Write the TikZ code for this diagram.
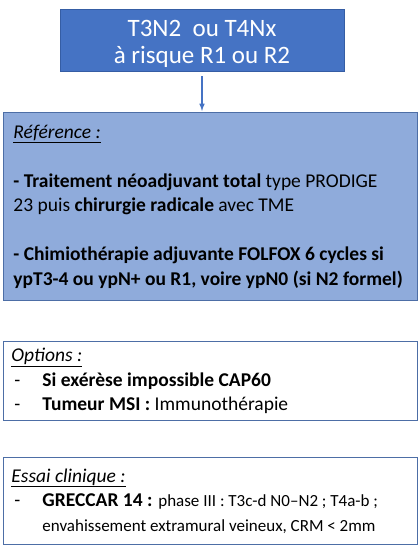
\documentclass[tikz,border=0pt]{standalone}
\usepackage{fontspec}
\setmainfont{Carlito}
\usetikzlibrary{positioning}
\definecolor{bleu}{rgb}{0.27,0.45,0.77}
\definecolor{bleuc}{rgb}{0.56,0.67,0.86}
\definecolor{bleub}{rgb}{0.18,0.33,0.59}
\tikzset{ %cadres
    titre/.style={draw=bleub!70!bleu, line width=0.8pt, fill=bleu, text=white, minimum width=284pt, minimum height=62pt, align=center, font=\fontsize{25}{27}\selectfont},
    cadre/.style={draw=bleub!85!white, line width=0.9pt, anchor=north west, text width=404pt, inner xsep=5pt, inner ysep=0pt, align=left, font=\fontsize{19.5}{24.5}\selectfont, execute at begin node={\spaceskip=0pt\xspaceskip=0pt}},
}
\newcommand{\tiret}{\makebox[34pt][l]{\hspace*{6pt}-}}
\newcommand{\petit}{\fontsize{17}{24.5}\selectfont}

\begin{document}
\begin{tikzpicture}[x=1pt, y=-1pt]
    \useasboundingbox (0,0) rectangle (420,554);
    \node[titre] (stade) at (202,40) {\rule{0pt}{24pt}T3N2\ \ ou T4Nx\\à risque R1 ou R2};
    \node[cadre, fill=bleuc, minimum height=188pt] (reference) at (3,112) {\hspace*{5pt}\underline{\textit{Référence :}}\\[24.5pt]
        \hspace*{5pt}\textbf{- Traitement néoadjuvant total} type PRODIGE\\
        \hspace*{5pt}23 puis \textbf{chirurgie radicale} avec TME\\[24.5pt]
        \hspace*{5pt}\textbf{- Chimiothérapie adjuvante FOLFOX 6 cycles si}\\
        \hspace*{5pt}\mbox{\textbf{ypT3-4 ou ypN+ ou R1, voire ypN0 (si N2 formel)}}};
    \node[cadre, minimum height=79pt] (options) at (3,341) {\hspace*{3pt}\underline{\textit{Options :}}\\
        \tiret\textbf{Si exérèse impossible CAP60}\\
        \tiret\textbf{Tumeur MSI :} Immunothérapie};
    \node[cadre, minimum height=87pt] (essai) at (3,457) {\hspace*{3pt}\underline{\textit{Essai clinique :}}\\
        \tiret\mbox{\textbf{GRECCAR 14 :} {\petit phase III : T3c-d N0–N2 ; T4a-b ;}}\\
        \hspace*{34pt}{\petit envahissement extramural veineux, CRM < 2mm}};
    \draw[-latex, bleu, line width=1.5pt, shorten <=5pt, shorten >=1pt] (stade.south) -- (stade.south |- reference.north);
\end{tikzpicture}
\end{document}
